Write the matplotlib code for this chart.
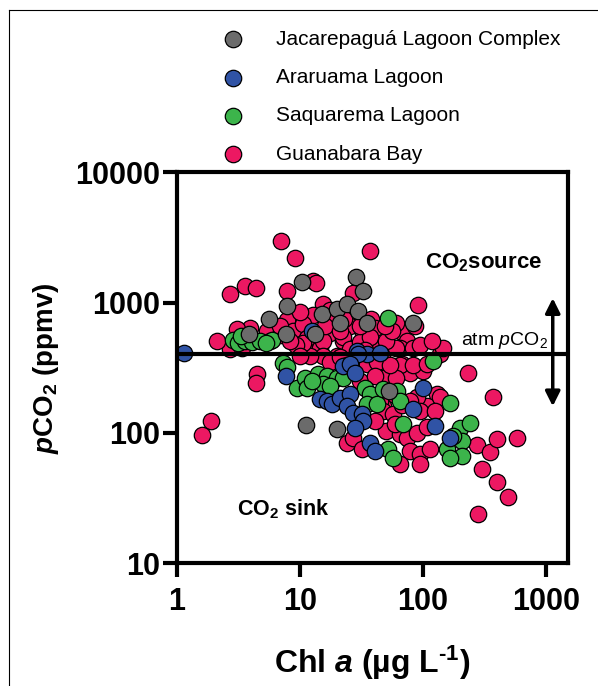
import numpy as np
import matplotlib
matplotlib.use("Agg")
import matplotlib.pyplot as plt
from matplotlib.lines import Line2D

plt.rcParams['font.family'] = ['Liberation Sans', 'DejaVu Sans']
plt.rcParams['mathtext.fontset'] = 'custom'
plt.rcParams['mathtext.rm'] = 'Liberation Sans'
plt.rcParams['mathtext.it'] = 'Liberation Sans:italic'
plt.rcParams['mathtext.bf'] = 'Liberation Sans:bold'
plt.rcParams['mathtext.bfit'] = 'Liberation Sans:bold:italic'

# Chl a (ug/L) and pCO2 (ppmv)
jac_chl = [5.6, 3.85, 7.7, 7.8, 10.4, 13.2, 15.1, 20, 24.1, 28.5, 32.5, 29.6,
           21.1, 35, 83, 53, 11.2, 20]
jac_pco2 = [753, 578, 578, 948, 1425, 578, 822, 899, 966, 1557, 1216, 868,
            702, 702, 702, 210, 115, 107]

ara_chl = [1.14, 7.7, 12.5, 24.1, 29, 35, 44.7, 29.6, 22.4, 25.5, 28, 14.5,
           16.6, 18.2, 21.1, 25.5, 24.1, 27, 32, 32.5, 28, 37, 40.7, 83, 100,
           125, 166]
ara_pco2 = [412, 274, 609, 333, 428, 405, 412, 405, 327, 340, 290, 183,
            176, 167, 186, 200, 161, 143, 140, 124, 109, 84, 73, 153, 222,
            113, 92]

saq_chl = [2.85, 3.13, 3.57, 4.07, 4.73, 5.92, 3.31, 5.3, 7.27, 7.8, 9.46, 11.0,
           11.4, 14.0, 16.6, 20.0, 15.4, 22.4, 12.5, 17.5, 33.8, 37.0, 35.0,
           42.3, 47.3, 61.5, 65.0, 68.8, 52, 57, 52, 121, 166, 200, 241, 207,
           157, 207, 175, 166]
saq_pco2 = [519, 492, 510, 501, 510, 519, 555, 490, 345, 318, 222, 265,
            222, 284, 274, 265, 238, 265, 250, 230, 222, 200, 167,
            167, 218, 210, 176, 117, 75, 64, 767, 358, 170, 109, 119, 87,
            75, 67, 95, 64]

gua_chl = [7.0, 9.1, 37, 2.7, 3.57, 4.4, 12.7, 13.5, 7.8, 91, 27, 15.4, 12.7,
           27, 25.5, 10.6, 17.5, 22.4, 68, 74, 65, 61, 44.7, 11.4, 14.5, 3.9,
           3.07, 2.7, 3.4, 5.4, 7.8, 8.8, 10.6, 11.4, 15.4, 22.4, 32.5, 25.5,
           35, 47, 61, 68, 78, 100, 137, 145, 130, 108, 47, 39, 15.4, 12, 20,
           2.1, 4.45, 4.4, 1.89, 1.6, 10.6, 83, 65, 83, 108, 47, 61, 44.7, 47,
           57, 68, 89, 50, 65, 74, 89, 108, 24, 27, 78, 94, 114, 65, 94, 32,
           232, 370, 275, 350, 405, 580, 305, 400, 490, 280, 137, 5.7, 6.9,
           9.3, 10, 17.5, 19, 23, 38, 41, 31, 37, 50, 56, 42, 54, 17.5, 21,
           30.7, 41, 15.9, 21, 30.7, 49, 86, 94, 118, 34, 10, 8.3, 6.9, 59,
           78, 94, 125, 59, 41]
gua_pco2 = [2950, 2200, 2500, 1160, 1330, 1290, 1450, 1400, 1220, 950, 1180,
            980, 800, 800, 660, 590, 580, 510, 590, 510, 450, 700, 450, 470,
            450, 640, 630, 440, 450, 610, 730, 610, 690, 530, 510, 540, 580,
            440, 340, 360, 450, 340, 290, 300, 400, 450, 200, 160, 160, 176,
            390, 390, 390, 510, 285, 240, 124, 96, 490, 450, 330, 330, 340,
            265, 265, 176, 148, 140, 165, 187, 104, 98, 91, 100, 110, 83, 91,
            73, 69, 75, 58, 58, 75, 290, 187, 80, 71, 90, 92, 53, 42, 32, 24,
            187, 510, 560, 470, 840, 870, 730, 750, 750, 640, 500, 540, 510,
            610, 350, 330, 350, 380, 251, 275, 660, 610, 660, 660, 660, 470,
            510, 430, 390, 510, 660, 195, 176, 148, 148, 117, 124]

series = [
    ("Jacarepaguá Lagoon Complex", jac_chl, jac_pco2, "#6b6b6b"),
    ("Araruama Lagoon", ara_chl, ara_pco2, "#3053a5"),
    ("Saquarema Lagoon", saq_chl, saq_pco2, "#3cb44b"),
    ("Guanabara Bay", gua_chl, gua_pco2, "#ec1862"),
]
draw_order = [3, 2, 1, 0]
atm_pco2 = 400

fig = plt.figure(figsize=(5.98, 6.86), dpi=100)
ax = fig.add_axes([0.296, 0.179, 0.654, 0.570])

handles = {}
for i in draw_order:
    name, xs, ys, col = series[i]
    handles[i] = ax.scatter(xs, ys, s=140, c=col, edgecolors='black',
                            linewidths=0.9, zorder=3 + (3 - i) * 0.1,
                            clip_on=False, label=name)

ax.axhline(atm_pco2, color='black', lw=3, zorder=5)

ax.set_xscale('log')
ax.set_yscale('log')
ax.set_xlim(1, 1520)
ax.set_ylim(10, 10000)
ax.set_xticks([1, 10, 100, 1000])
ax.set_xticklabels(['1', '10', '100', '1000'])
ax.set_yticks([10, 100, 1000, 10000])
ax.set_yticklabels(['10', '100', '1000', '10000'])
ax.minorticks_off()
for side in ['left', 'right', 'top', 'bottom']:
    ax.spines[side].set_linewidth(3)
    ax.spines[side].set_zorder(6)
ax.tick_params(width=3, length=10, labelsize=22)
ax.tick_params(axis='y', pad=2)
ax.tick_params(axis='x', pad=7)
for lab in ax.get_xticklabels() + ax.get_yticklabels():
    lab.set_fontweight('bold')

ax.set_xlabel('Chl $\\mathbfit{a}$ (µg L$^{\\mathbf{‐1}}$)', fontsize=23,
              fontweight='bold', labelpad=19)
ax.set_ylabel(r'$\mathbfit{p}\mathbf{CO_2}$ (ppmv)', fontsize=20,
              fontweight='bold', labelpad=10)

ax.text(104, 2030, r'$\mathbf{CO_2}$source', fontsize=16, fontweight='bold',
        va='center', ha='left')
ax.text(3.07, 26, r'$\mathbf{CO_2}$ sink', fontsize=15.5, fontweight='bold',
        va='center', ha='left')
ax.text(205, 425, r'atm $\mathit{p}$CO$_2$', fontsize=14, va='bottom', ha='left')
ax.annotate('', xy=(1140, 1080), xytext=(1140, 160),
            arrowprops=dict(arrowstyle='<|-|>', color='black', lw=2.5,
                            mutation_scale=22, shrinkA=0, shrinkB=0))

fig.legend([handles[i] for i in range(4)], [s[0] for s in series],
           loc='upper left', bbox_to_anchor=(0.323, 0.984), frameon=False,
           fontsize=15, scatterpoints=1, handletextpad=1.1,
           labelspacing=0.93, borderpad=0.4)

# thin frame around the panel
fig.add_artist(Line2D([9 / 598, 1], [1 - 10 / 686, 1 - 10 / 686],
                      transform=fig.transFigure, color='black', lw=0.8))
fig.add_artist(Line2D([9 / 598, 9 / 598], [0, 1 - 10 / 686],
                      transform=fig.transFigure, color='black', lw=0.8))

fig.savefig('out.png', dpi=100)
